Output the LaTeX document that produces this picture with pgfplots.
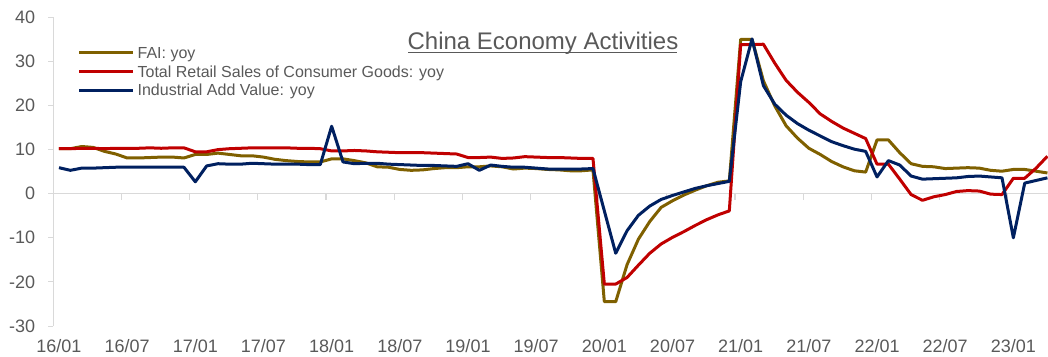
\documentclass[border=0pt]{standalone}
\usepackage{pgfplots}
\pgfplotsset{compat=1.18}
\usepackage{pgfplotstable}
\usepackage{fontspec}
\setmainfont{Liberation Sans}
\definecolor{fai}{HTML}{7F6000}
\definecolor{rs}{HTML}{C00000}
\definecolor{iav}{HTML}{002060}
\definecolor{txt}{HTML}{595959}
\definecolor{axl}{HTML}{D9D9D9}

\pgfplotstableread{
i fai rs iav
0 10.2 10.2 5.9
1 10.2 10.2 5.3
2 10.7 10.3 5.8
3 10.5 10.3 5.8
4 9.6 10.2 5.9
5 9.0 10.3 6.0
6 8.1 10.3 6.0
7 8.1 10.3 6.0
8 8.2 10.4 6.0
9 8.3 10.3 6.0
10 8.3 10.4 6.0
11 8.1 10.4 6.0
12 8.9 9.5 2.7
13 8.9 9.5 6.3
14 9.2 10.0 6.8
15 8.9 10.2 6.7
16 8.6 10.3 6.7
17 8.6 10.4 6.9
18 8.3 10.4 6.8
19 7.8 10.4 6.7
20 7.5 10.4 6.7
21 7.3 10.3 6.7
22 7.2 10.3 6.6
23 7.2 10.2 6.6
24 7.9 9.7 15.3
25 7.9 9.7 7.2
26 7.5 9.8 6.8
27 7.0 9.7 6.9
28 6.1 9.5 6.9
29 6.0 9.4 6.7
30 5.5 9.3 6.6
31 5.3 9.3 6.5
32 5.4 9.3 6.4
33 5.7 9.2 6.4
34 5.9 9.1 6.3
35 5.9 9.0 6.2
36 6.1 8.2 6.8
37 6.1 8.2 5.3
38 6.3 8.3 6.5
39 6.1 8.0 6.2
40 5.6 8.1 6.0
41 5.8 8.4 6.0
42 5.7 8.3 5.8
43 5.5 8.2 5.6
44 5.4 8.2 5.6
45 5.2 8.1 5.6
46 5.2 8.0 5.6
47 5.4 8.0 5.7
48 -24.5 -20.5 -3.9
49 -24.5 -20.5 -13.5
50 -16.1 -19.0 -8.4
51 -10.3 -16.2 -4.9
52 -6.3 -13.5 -2.8
53 -3.1 -11.4 -1.3
54 -1.6 -9.9 -0.4
55 -0.3 -8.6 0.4
56 0.8 -7.2 1.2
57 1.8 -5.9 1.8
58 2.6 -4.8 2.3
59 2.9 -3.9 2.8
60 35.0 33.8 25.4
61 35.0 33.8 35.1
62 25.6 33.9 24.5
63 19.9 29.6 20.3
64 15.4 25.7 17.8
65 12.6 23.0 15.9
66 10.3 20.7 14.4
67 8.9 18.1 13.1
68 7.3 16.4 11.8
69 6.1 14.9 10.9
70 5.2 13.7 10.1
71 4.9 12.5 9.6
72 12.2 6.7 3.8
73 12.2 6.7 7.5
74 9.3 3.3 6.5
75 6.8 -0.2 4.0
76 6.2 -1.5 3.3
77 6.1 -0.7 3.4
78 5.7 -0.2 3.5
79 5.8 0.5 3.6
80 5.9 0.7 3.9
81 5.8 0.6 4.0
82 5.3 -0.1 3.8
83 5.1 -0.2 3.6
84 5.5 3.5 -10.0
85 5.5 3.5 2.4
86 5.1 5.8 3.0
87 4.7 8.5 3.6
}\datatable

\begin{document}
\begin{tikzpicture}
\begin{axis}[
  scale only axis, width=994.7pt, height=308.7pt,
  xmin=-0.5, xmax=87.05, ymin=-30, ymax=40,
  axis y line=left, axis x line=bottom,
  x axis line style={draw=none},
  y axis line style={axl, line width=1pt, -},
  ytick={-30,-20,...,40},
  xtick={0,6,...,84},
  xticklabels={16/01,16/07,17/01,17/07,18/01,18/07,19/01,19/07,20/01,20/07,21/01,21/07,22/01,22/07,23/01},
  x tick style={draw=none},
  y tick style={axl, line width=1pt},
  tick align=outside, major tick length=5pt,
  ticklabel style={font=\fontsize{18}{20}\selectfont, text=txt},
  /pgf/number format/assume math mode=true,
  yticklabel style={anchor=east, inner sep=0pt, xshift=-13pt},
  xticklabel style={anchor=north, inner sep=0pt, yshift=-8.5pt},
  no markers,
  legend style={at={(0.0248,0.9156)}, anchor=north west, draw=none, fill=none,
    inner sep=0pt, outer sep=0pt, font=\fontsize{16}{18}\selectfont, text=txt,
    row sep=0pt, nodes={inner sep=0pt, text height=15pt, text depth=3.7pt}},
  legend cell align=left,
  legend image code/.code={\draw[#1] (0pt,0pt) -- (54pt,0pt);},
]
\draw[axl, line width=1.3pt] (axis cs:-0.5,0) -- (axis cs:87.05,0);
\pgfplotsinvokeforeach{-0.5,5.5,...,83.5}{\draw[axl, line width=1.2pt] (axis cs:#1,0) -- ([yshift=-6pt]axis cs:#1,0);}
\addplot[fai, line width=3pt, line join=round] table[x=i, y=fai]{\datatable};
\addlegendentry{\,FAI: yoy}
\addplot[rs, line width=3pt, line join=round] table[x=i, y=rs]{\datatable};
\addlegendentry{\,Total Retail Sales of Consumer Goods: yoy}
\addplot[iav, line width=3pt, line join=round] table[x=i, y=iav]{\datatable};
\addlegendentry{\,Industrial Add Value: yoy}
\end{axis}
\node[anchor=base, font=\fontsize{24}{28}\selectfont, text=txt, inner sep=0pt] at (489.7pt,276pt) {China Economy Activities};
\draw[txt, line width=1.2pt] (355pt,273.3pt) -- (624pt,273.3pt);
\pgfresetboundingbox
\useasboundingbox (-53.3pt,-30pt) rectangle (994.7pt,326pt);
\end{tikzpicture}
\end{document}
